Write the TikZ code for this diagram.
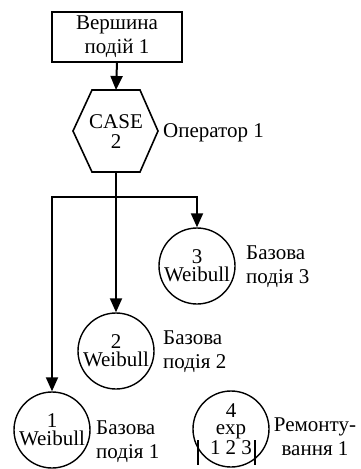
\documentclass[tikz,border=0pt]{standalone}
\usepackage{fontspec}
\setmainfont{Liberation Serif}
\usetikzlibrary{arrows.meta,calc}
\begin{document}
\begin{tikzpicture}[x=1pt,y=-1pt,
  every node/.style={font=\fontsize{21}{24}\selectfont, inner sep=0pt},
  boxst/.style={draw, line width=1.8pt, minimum width=130pt, minimum height=50pt, align=center},
  ev/.style={draw, circle, line width=1.4pt, minimum size=76pt, align=center, font=\fontsize{21}{18}\selectfont},
  lbl/.style={align=left, anchor=west},
  conn/.style={line width=2pt},
  arr/.style={conn, -{Triangle[length=14pt,width=12pt]}},
]
\useasboundingbox (0,0) rectangle (361,469);
% top event
\node[boxst] (top) at (117,37) {Вершина\\подій 1};
% operator hexagon
\draw[line width=1.6pt] (73,131) -- (92,90) -- (140,90) -- (158,131) -- (140,172) -- (92,172) -- cycle;
\coordinate (htop) at (116,90);
\coordinate (hbot) at (116,172);
\node[align=center, font=\fontsize{21}{20}\selectfont] (hex) at (116,132) {CASE\\2};
\node[anchor=west] (oplbl) at (163,133) {Оператор 1};
% basic events
\node[ev] (e3) at (197,266) {3\\Weibull};
\node[ev] (e2) at (116,351) {2\\Weibull};
\node[ev] (e1) at (52,430) {1\\Weibull};
\node[ev, font=\fontsize{21}{17}\selectfont] (e4) at (231,429) {4\\exp\\1 2 3};
\draw[line width=2.6pt] ($(e4.center)+(-33,11)$) -- ($(e4.center)+(-33,36)$);
\draw[line width=2.6pt] ($(e4.center)+(24,11)$) -- ($(e4.center)+(24,36)$);
% labels
\node[lbl] (l3) at (246,267) {Базова\\подія 3};
\node[lbl] (l2) at (163,352) {Базова\\подія 2};
\node[lbl] (l1) at (96,442) {Базова\\подія 1};
\node[align=center] (l4) at (315,437) {Ремонту-\\вання 1};
% connectors
\coordinate (j) at (116,197);
\draw[arr] (top.south) -- (htop);
\draw[arr] (hbot) -- (e2.north);
\draw[arr] (j) -| (e1.north);
\draw[arr] (j) -| (e3.north);
\end{tikzpicture}
\end{document}
